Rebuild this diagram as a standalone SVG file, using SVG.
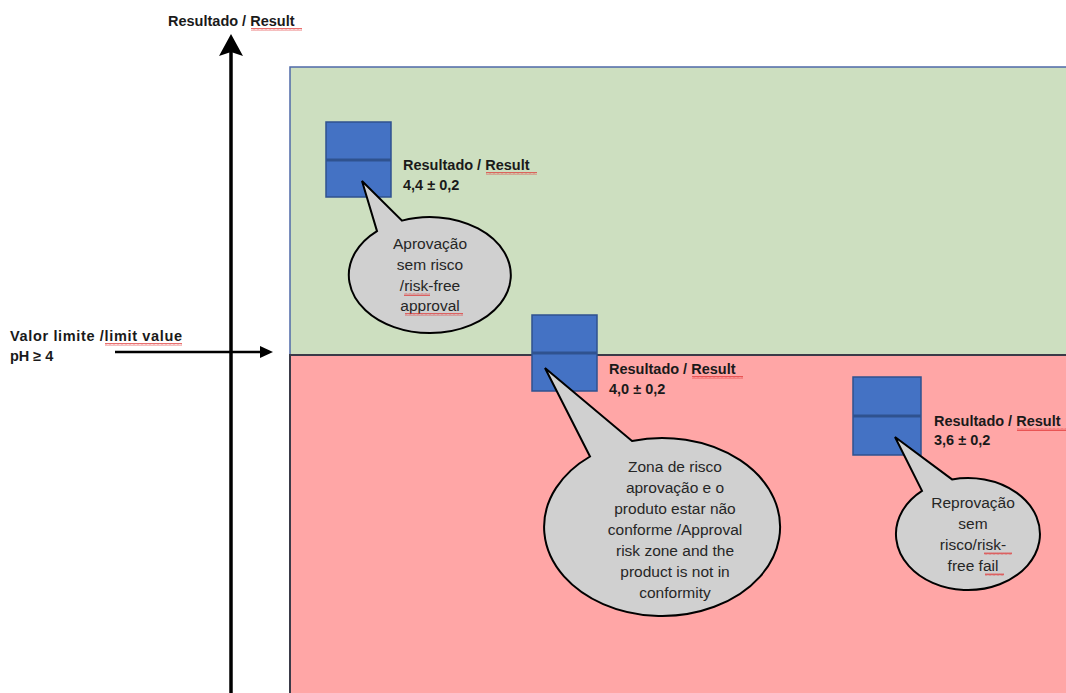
<svg xmlns="http://www.w3.org/2000/svg" width="1066" height="693" viewBox="0 0 1066 693">
  <defs>
    <pattern id="squig" width="4" height="3" patternUnits="userSpaceOnUse">
      <path d="M0,2.5 L1,0.5 L2,2.5 L3,0.5 L4,2.5" fill="none" stroke="#e03030" stroke-width="0.7"/>
    </pattern>
  </defs>
  <style>
    .bold { font-family: "Liberation Sans", Arial, sans-serif; font-weight: bold; font-size: 14.5px; fill: #1a1a1a; }
    .call { font-family: "Liberation Sans", Arial, sans-serif; font-size: 15.5px; fill: #262626; text-anchor: middle; }
    .box { fill: #4472C4; stroke: #2F528F; stroke-width: 1.5; }
    .div { stroke: #2F528F; stroke-width: 3; }
    .bubble { fill: #D0D0D0; stroke: #000; stroke-width: 2; stroke-linejoin: miter; }
    .sq { fill: url(#squig); }
  </style>
  <rect x="0" y="0" width="1066" height="693" fill="#ffffff"/>

  <g id="zone-approval">
    <rect x="290" y="67" width="780" height="288" fill="#CDDFC0" stroke="#4F6AA8" stroke-width="1.5"/>
  </g>
  <g id="zone-risk">
    <rect x="290" y="355" width="780" height="345" fill="#FFA6A6" stroke="#3A3A48" stroke-width="2"/>
  </g>

  <g id="connectors">
    <line x1="231" y1="693" x2="231" y2="52" stroke="#000" stroke-width="3.5"/>
    <polygon points="231,34 219,56 231,52 243,56" fill="#000"/>
    <line x1="115" y1="352" x2="263" y2="352" stroke="#000" stroke-width="2.5"/>
    <polygon points="273,352 260,346 260,358" fill="#000"/>
  </g>

  <g id="axis-title">
    <text class="bold" x="168" y="26">Resultado / Result</text>
    <rect class="sq" x="251" y="28" width="51" height="3"/>
  </g>

  <g id="limit-label">
    <text class="bold" x="10" y="341" textLength="172" lengthAdjust="spacing">Valor limite /limit value</text>
    <text class="bold" x="10" y="361">pH ≥ 4</text>
    <rect class="sq" x="105" y="343" width="77" height="3"/>
  </g>

  <g id="result-1">
    <rect class="box" x="326" y="122" width="65" height="75"/>
    <line class="div" x1="326" y1="160" x2="391" y2="160"/>
    <text class="bold" x="403" y="170">Resultado / Result</text>
    <text class="bold" x="403" y="190">4,4 ± 0,2</text>
    <rect class="sq" x="486" y="172" width="51" height="3"/>
  </g>

  <g id="result-2">
    <rect class="box" x="532" y="315" width="65" height="76"/>
    <line class="div" x1="532" y1="353" x2="597" y2="353"/>
    <text class="bold" x="609" y="374">Resultado / Result</text>
    <text class="bold" x="609" y="394">4,0 ± 0,2</text>
    <rect class="sq" x="692" y="376" width="51" height="3"/>
  </g>

  <g id="result-3">
    <rect class="box" x="853" y="377" width="68" height="78"/>
    <line class="div" x1="853" y1="416" x2="921" y2="416"/>
    <text class="bold" x="934" y="426">Resultado / Result</text>
    <text class="bold" x="934" y="445">3,6 ± 0,2</text>
    <rect class="sq" x="1017" y="428" width="49" height="3"/>
  </g>

  <g id="callout-1">
    <path class="bubble" d="M377,231.1 L362,181 L402,220.6 A81 58 0 1 1 377,231.1 Z"/>
    <text class="call" x="430" y="249">Aprovação</text>
    <text class="call" x="430" y="270">sem risco</text>
    <text class="call" x="430" y="291">/risk-free</text>
    <text class="call" x="430" y="311">approval</text>
    <rect class="sq" x="404" y="293" width="26" height="3"/>
    <rect class="sq" x="405" y="313" width="58" height="3"/>
  </g>

  <g id="callout-2">
    <path class="bubble" d="M590,456.5 L545,368 L632,440.9 A118 89 0 1 1 590,456.5 Z"/>
    <text class="call" x="675" y="472">Zona de risco</text>
    <text class="call" x="675" y="493">aprovação e o</text>
    <text class="call" x="675" y="514">produto estar não</text>
    <text class="call" x="675" y="535">conforme /Approval</text>
    <text class="call" x="675" y="556">risk zone and the</text>
    <text class="call" x="675" y="577">product is not in</text>
    <text class="call" x="675" y="598">conformity</text>
  </g>

  <g id="callout-3">
    <path class="bubble" d="M922,490.9 L895,437 L952,479.4 A72 56 0 1 1 922,490.9 Z"/>
    <text class="call" x="973" y="508">Reprovação</text>
    <text class="call" x="973" y="529">sem</text>
    <text class="call" x="973" y="550">risco/risk-</text>
    <text class="call" x="973" y="571">free fail</text>
    <rect class="sq" x="984" y="552" width="28" height="3"/>
    <rect class="sq" x="985" y="573" width="19" height="3"/>
  </g>
</svg>
